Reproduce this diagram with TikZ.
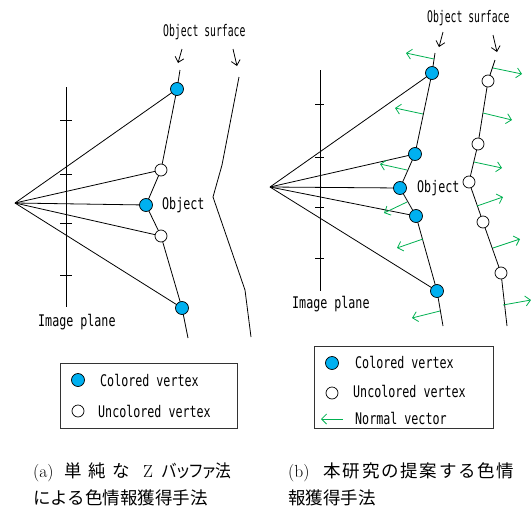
\documentclass[tikz,border=0pt]{standalone}
\usepackage{fontspec}
\usetikzlibrary{arrows.meta}
\newfontfamily\labfont[FakeStretch=0.73]{DejaVu Sans Mono}
\newfontfamily\labfontn[FakeStretch=0.61]{DejaVu Sans Mono}
\newfontfamily\cjk{Noto Sans CJK JP}
\newfontfamily\cjkp[RawFeature=+palt]{Noto Sans CJK JP}
\definecolor{vblue}{RGB}{0,176,240}
\definecolor{ngreen}{RGB}{0,176,80}
\begin{document}
\begin{tikzpicture}[x=1pt,y=-1pt,
 line/.style={line width=0.8pt},
 cvert/.style={circle,draw,fill=vblue,minimum size=13pt,inner sep=0pt,line width=0.7pt},
 uvert/.style={circle,draw,fill=white,minimum size=12pt,inner sep=0pt,line width=0.7pt},
 lbl/.style={font=\labfont\fontsize{16}{18}\selectfont,inner sep=0pt,anchor=west},
 lbln/.style={font=\labfontn\fontsize{16}{18}\selectfont,inner sep=0pt,anchor=west},
 ptr/.style={line width=0.8pt,-{Straight Barb[length=5pt,width=9pt]}},
 nrm/.style={ngreen,line width=0.8pt,-{Straight Barb[length=5pt,width=10pt]}},
 legbox/.style={draw=black!80,line width=0.8pt},
 captxt/.style={font=\fontsize{17.5}{27}\selectfont,inner sep=0pt,anchor=base west}
]
\useasboundingbox (0,0) rectangle (531,509);

% ---------------- panel (a) ----------------
\coordinate (eA) at (15,203);
\coordinate (tA) at (180,70);
\coordinate (bA) at (188,338);
\coordinate (pA1) at (177,89);
\coordinate (pA2) at (161,170);
\coordinate (pA3) at (146,205);
\coordinate (pA4) at (161,236);
\coordinate (pA5) at (182,308);
% image plane
\draw[line] (66,87) -- (66,307);
\foreach \y in {120,174,223,275} \draw[line] (60,\y) -- (72,\y);
% rays
\foreach \p in {pA1,pA2,pA3,pA4,pA5} \draw[line] (eA) -- (\p);
% surfaces
\draw[line] (tA) -- (pA1) -- (pA2) -- (pA3) -- (pA4) -- (pA5) -- (bA);
\draw[line] (239,77) -- (222,165) -- (213,197) -- (245,290) -- (251,337);
% vertices
\node[cvert] (ca1) at (pA1) {};
\node[uvert] (ua2) at (pA2) {};
\node[cvert] (ca3) at (pA3) {};
\node[uvert] (ua4) at (pA4) {};
\node[cvert] (ca5) at (pA5) {};
% labels
\node[lbln] (osA) at (163,32) {Object surface};
\coordinate (aA1s) at (182,49); \coordinate (aA1e) at (178,63);
\coordinate (aA2s) at (233,49); \coordinate (aA2e) at (237,66);
\draw[ptr] (aA1s) -- (aA1e);
\draw[ptr] (aA2s) -- (aA2e);
\node[lbl] (objA) at (162,205) {Object};
\node[lbl] (ipA) at (38,322) {Image plane};
% legend (a)
\draw[legbox] (60,363) rectangle (237,428);
\node[cvert] (lgA1) at (78,380) {};
\node[uvert] (lgA2) at (78,411) {};
\node[lbl] (lgA1t) at (100,380) {Colored vertex};
\node[lbl] (lgA2t) at (98,411) {Uncolored vertex};

% ---------------- panel (b) ----------------
\coordinate (eB) at (270,187);
\coordinate (tB) at (435,53);
\coordinate (bB) at (443,326);
\coordinate (pB1) at (432,73);
\coordinate (pB2) at (415,154);
\coordinate (pB3) at (400,188);
\coordinate (pB4) at (416,216);
\coordinate (pB5) at (437,291);
\coordinate (tC) at (495,60);
\coordinate (bC) at (507,326);
\coordinate (qB1) at (488,81);
\coordinate (qB2) at (478,144);
\coordinate (qB3) at (469,182);
\coordinate (qB4) at (483,222);
\coordinate (qB5) at (501,273);
% image plane
\draw[line] (320,70) -- (320,291);
\foreach \y in {104,157,207,258} \draw[line] (315,\y) -- (324,\y);
% rays
\foreach \p in {pB1,pB2,pB3,pB4,pB5} \draw[line] (eB) -- (\p);
% surfaces
\draw[line] (tB) -- (pB1) -- (pB2) -- (pB3) -- (pB4) -- (pB5) -- (bB);
\draw[line] (tC) -- (qB1) -- (qB2) -- (qB3) -- (qB4) -- (qB5) -- (bC);
% normals, surface 1 (pointing left)
\draw[nrm] (434,59) -- (406,53);
\draw[nrm] (423,114) -- (395,108);
\draw[nrm] (407,170) -- (380,164);
\draw[nrm] (407,202) -- (384,213);
\draw[nrm] (423,239) -- (397,248);
\draw[nrm] (440,311) -- (412,318);
% normals, surface 2 (pointing right)
\draw[nrm] (493,68) -- (522,74);
\draw[nrm] (483,113) -- (512,120);
\draw[nrm] (474,162) -- (502,168);
\draw[nrm] (477,206) -- (503,197);
\draw[nrm] (493,248) -- (520,239);
\draw[nrm] (503,305) -- (531,300);
% vertices
\node[cvert] (cb1) at (pB1) {};
\node[cvert] (cb2) at (pB2) {};
\node[cvert] (cb3) at (pB3) {};
\node[cvert] (cb4) at (pB4) {};
\node[cvert] (cb5) at (pB5) {};
\node[uvert] (ub1) at (qB1) {};
\node[uvert] (ub2) at (qB2) {};
\node[uvert] (ub3) at (qB3) {};
\node[uvert] (ub4) at (qB4) {};
\node[uvert] (ub5) at (qB5) {};
% labels
\node[lbln] (osB) at (427,18) {Object surface};
\coordinate (aB1s) at (443,32); \coordinate (aB1e) at (439,47);
\coordinate (aB2s) at (493,35); \coordinate (aB2e) at (497,52);
\draw[ptr] (aB1s) -- (aB1e);
\draw[ptr] (aB2s) -- (aB2e);
\node[lbl] (objB) at (417,188) {Object};
\node[lbl] (ipB) at (292,304) {Image plane};
% legend (b)
\draw[legbox] (314,346) rectangle (493,428);
\node[cvert] (lgB1) at (332,363) {};
\node[uvert] (lgB2) at (332,393) {};
\coordinate (lgB3s) at (343,419); \coordinate (lgB3e) at (321,419);
\draw[nrm] (lgB3s) -- (lgB3e);
\node[lbl] (lgB1t) at (355,362) {Colored vertex};
\node[lbl] (lgB2t) at (353,391) {Uncolored vertex};
\node[lbl] (lgB3t) at (355,418) {Normal vector};

% ---------------- captions ----------------
\node[captxt] (capA1) at (33,477) {(a)};
\node[captxt] (capA1b) at (64,477) {\makebox[66pt][s]{\cjk 単\hfil 純\hfil な}};
\node[captxt] (capA1c) at (143,477) {Z};
\node[captxt] (capA1d) at (162,477) {\cjkp\scalebox{0.9}[1]{バッファ法}};
\node[captxt] (capA2) at (33,504) {\cjk による色情報獲得手法};
\node[captxt] (capB1) at (288,477) {(b)};
\node[captxt] (capB1b) at (323.5,477) {\makebox[190.5pt][s]{\cjk 本\hfil 研\hfil 究\hfil の\hfil 提\hfil 案\hfil す\hfil る\hfil 色\hfil 情}};
\node[captxt] (capB2) at (288,504) {\cjk 報獲得手法};
\end{tikzpicture}
\end{document}
